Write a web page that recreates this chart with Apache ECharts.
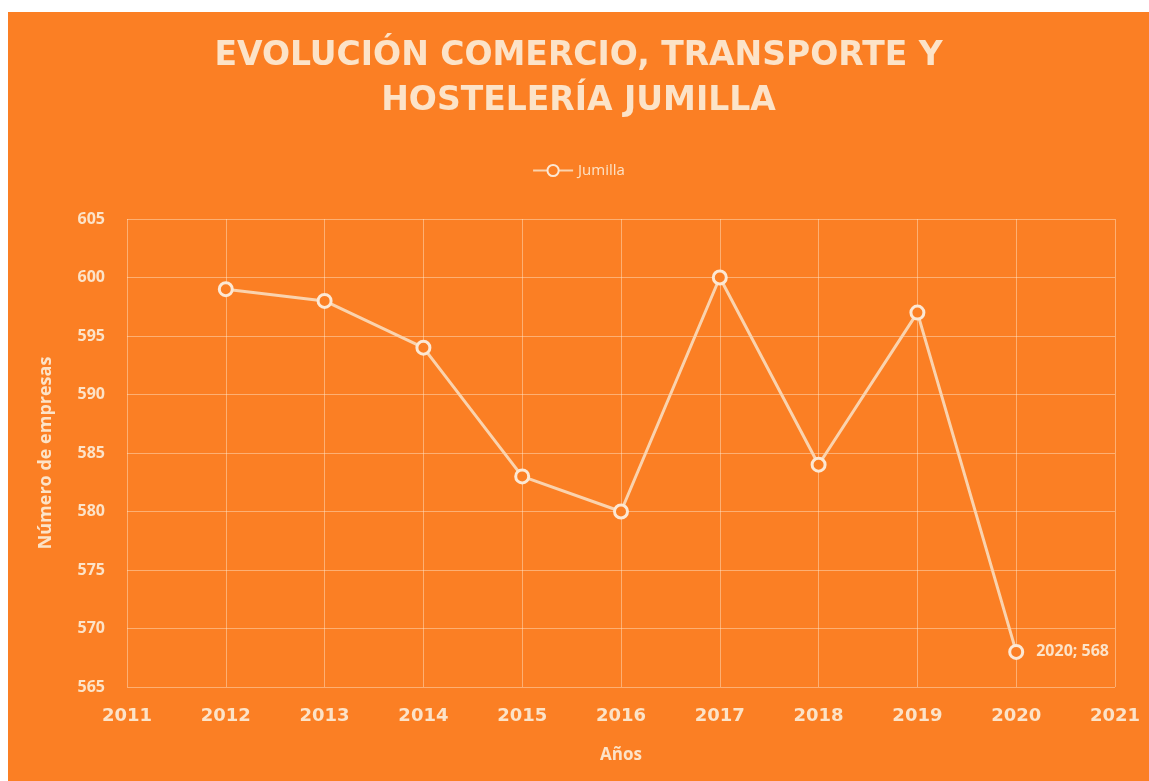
<!DOCTYPE html>
<html>
<head>
<meta charset="utf-8">
<script src="https://cdn.jsdelivr.net/npm/echarts@6/dist/echarts.min.js"></script>
<style>
  html, body { margin: 0; padding: 0; background: #fff; }
  #chart { position: absolute; left: 8px; top: 12px; width: 1141px; height: 769px; background: #FB7F24; }
</style>
</head>
<body>
<div id="chart"></div>
<script>
// years and company counts
const years = [2012, 2013, 2014, 2015, 2016, 2017, 2018, 2019, 2020];
const empresas = [599, 598, 594, 583, 580, 600, 584, 597, 568];
const seriesName = 'Jumilla';

const ink = '#FCE3C8';
const lineColor = '#FAD3AE';
const bg = '#FB7F24';

const chart = echarts.init(document.getElementById('chart'));

const points = years.map((y, i) => [y, empresas[i]]);

chart.setOption({
  backgroundColor: bg,
  title: {
    text: 'EVOLUCIÓN COMERCIO, TRANSPORTE Y\nHOSTELERÍA JUMILLA',
    left: 'center',
    top: 17,
    textStyle: {
      color: ink,
      fontFamily: 'DejaVu Sans',
      fontWeight: 'bold',
      fontSize: 33,
      lineHeight: 45
    }
  },
  legend: {
    top: 146,
    left: 'center',
    data: [seriesName],
    itemWidth: 40,
    itemHeight: 14,
    textStyle: { color: ink, fontFamily: 'Open Sans', fontSize: 15 }
  },
  grid: { left: 119, right: 34, top: 207, bottom: 94 },
  xAxis: {
    type: 'value',
    min: 2011,
    max: 2021,
    interval: 1,
    name: 'Años',
    nameLocation: 'middle',
    nameGap: 60,
    nameTextStyle: { color: ink, fontFamily: 'Open Sans', fontWeight: 'bold', fontSize: 17 },
    axisLine: { show: false },
    axisTick: { show: false },
    axisLabel: {
      color: ink, fontFamily: 'DejaVu Sans', fontWeight: 'bold', fontSize: 18, margin: 20,
      formatter: v => String(v)
    },
    splitLine: { show: true, lineStyle: { color: 'rgba(255,235,210,0.45)', width: 1 } }
  },
  yAxis: {
    type: 'value',
    min: 565,
    max: 605,
    interval: 5,
    name: 'Número de empresas',
    nameLocation: 'middle',
    nameGap: 72,
    nameTextStyle: { color: ink, fontFamily: 'Open Sans', fontWeight: 'bold', fontSize: 18 },
    axisLine: { show: false },
    axisTick: { show: false },
    axisLabel: { color: ink, fontFamily: 'Open Sans', fontWeight: 'bold', fontSize: 16, margin: 22 },
    splitLine: { show: true, lineStyle: { color: 'rgba(255,235,210,0.45)', width: 1 } }
  },
  series: [{
    name: seriesName,
    type: 'line',
    data: points,
    symbol: 'circle',
    symbolSize: 13,
    lineStyle: { color: lineColor, width: 3 },
    itemStyle: { color: bg, borderColor: '#FCE8D4', borderWidth: 3 },
    label: {
      show: true,
      position: 'right',
      distance: 12,
      color: ink,
      fontFamily: 'Open Sans',
      fontWeight: 'bold',
      fontSize: 16,
      formatter: p => p.dataIndex === years.length - 1 ? p.value[0] + '; ' + p.value[1] : ''
    },
    emphasis: { disabled: true }
  }]
});
</script>
</body>
</html>
